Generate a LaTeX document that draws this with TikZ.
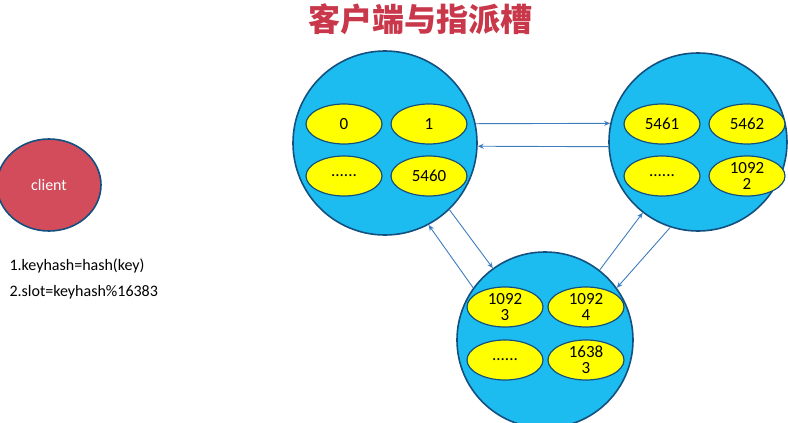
\documentclass[tikz,border=0pt]{standalone}
\usepackage{fontspec}
\setmainfont{Carlito}
\newfontfamily\cjk{Noto Sans CJK SC}
\usetikzlibrary{arrows.meta,shapes.geometric}
\definecolor{ballblue}{HTML}{1CBCF0}
\definecolor{rimblue}{HTML}{14507F}
\definecolor{slotyellow}{HTML}{FFFF00}
\definecolor{clientred}{HTML}{D24C5C}
\definecolor{linkblue}{HTML}{3D7CBF}
\definecolor{titlered}{HTML}{C8374A}
\tikzset{
  ball/.style={circle, draw=rimblue, line width=1.6pt, fill=ballblue},
  slot/.style={ellipse, draw=rimblue, line width=1.2pt, fill=slotyellow,
    minimum width=76pt, minimum height=40pt, inner sep=0pt, align=center,
    font=\fontsize{17}{16}\selectfont},
  link/.style={draw=linkblue, line width=0.9pt, -{Stealth[length=6pt,width=5pt]}}
}
\begin{document}
\begin{tikzpicture}[x=1pt,y=-1pt]
\useasboundingbox (0,0) rectangle (788,423);
% title
\node (title) at (420,19) {\cjk\bfseries\fontsize{32}{32}\selectfont\textcolor{titlered}{客户端与指派槽}};
% client
\node[ellipse, draw=rimblue, line width=1.6pt, fill=clientred, minimum width=104pt,
  minimum height=92pt, text=white, font=\fontsize{16}{16}\selectfont] (client) at (49,185) {client};
\node[anchor=west, font=\fontsize{16}{16}\selectfont] (step1) at (6,266) {1.keyhash=hash(key)};
\node[anchor=west, font=\fontsize{16}{16}\selectfont] (step2) at (6,292) {2.slot=keyhash\%16383};
% three masters
\node[ball, minimum size=184pt] (ballA) at (385,143) {};
\node[ball, minimum size=178pt] (ballB) at (698,142) {};
\node[ball, minimum size=176pt] (ballC) at (545,340) {};
\node[slot] (a0) at (344,124) {0};
\node[slot] (a1) at (429,124) {1};
\node[slot] (a2) at (344,176) {......};
\node[slot] (a3) at (429,176) {5460};
\node[slot] (b0) at (662,124) {5461};
\node[slot] (b1) at (747,124) {5462};
\node[slot] (b2) at (662,176) {......};
\node[slot] (b3) at (747,176) {1092\\2};
\node[slot] (c0) at (505,307) {1092\\3};
\node[slot] (c1) at (586,307) {1092\\4};
\node[slot] (c2) at (505,360) {......};
\node[slot] (c3) at (586,360) {1638\\3};
% links
\draw[link] (ballA.12) -- (ballB.168);
\draw[link] (ballB.183) -- (ballA.-2);
\draw[link] (ballA.-46) -- (ballC.126);
\draw[link] (ballC.144) -- (ballA.-62);
\draw[link] (ballB.-108) -- (ballC.36);
\draw[link] (ballC.52) -- (ballB.-128);
\end{tikzpicture}
\end{document}
